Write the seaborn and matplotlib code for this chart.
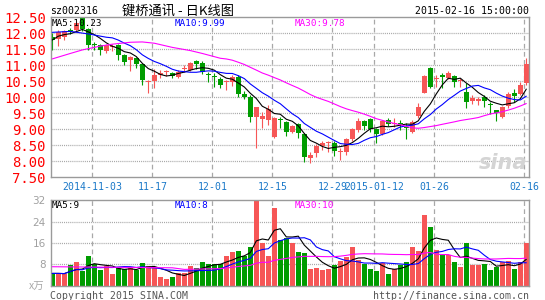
import numpy as np
import pandas as pd
import matplotlib
matplotlib.use("Agg")
import matplotlib.pyplot as plt
import seaborn as sns

# ---------------- data ----------------
opens = [11.87, 11.82, 11.88, 12.09, 12.10, 12.50, 12.14, 11.66, 11.63, 11.46,
         11.56, 11.62, 11.32, 11.18, 11.24, 11.05, 10.48, 10.52, 10.70, 10.78,
         10.76, 10.62, 10.88, 10.85, 11.14, 11.08, 10.71, 10.64, 10.57, 10.47,
         10.48, 10.64, 10.10, 10.02, 9.40, 9.31, 9.30, 8.77, 9.30, 9.24,
         8.91, 9.16, 8.85, 8.11, 8.27, 8.48, 8.57, 8.56, 8.29, 8.28,
         8.69, 8.98, 9.26, 9.31, 9.00, 8.85, 9.29, 9.17, 9.20, 9.05,
         8.92, 9.42, 10.15, 10.93, 10.57, 10.70, 10.59, 10.68, 10.50, 10.18,
         9.89, 9.90, 10.00, 9.79, 9.60, 9.40, 9.74, 10.15, 10.09, 10.44]
highs = [12.00, 12.10, 12.10, 12.17, 12.38, 12.55, 12.16, 11.73, 11.67, 11.66,
         11.66, 11.66, 11.36, 11.30, 11.27, 11.07, 10.54, 10.88, 10.85, 10.86,
         10.80, 10.85, 11.00, 11.10, 11.17, 11.14, 10.80, 10.75, 10.65, 10.54,
         10.70, 10.70, 10.20, 10.07, 9.70, 9.55, 9.75, 9.40, 9.40, 9.26,
         9.14, 9.19, 8.87, 8.30, 8.55, 8.62, 8.62, 8.62, 8.41, 8.72,
         9.05, 9.36, 9.29, 9.34, 9.03, 9.29, 9.34, 9.34, 9.29, 9.19,
         9.30, 9.82, 10.70, 10.94, 10.70, 10.75, 10.82, 10.70, 10.59, 10.44,
         10.07, 10.02, 10.07, 9.84, 9.61, 9.73, 10.18, 10.26, 10.49, 11.22]
lows = [11.48, 11.61, 11.80, 11.97, 12.05, 12.08, 11.48, 11.47, 11.32, 11.38,
        11.45, 11.17, 11.02, 10.82, 10.93, 10.39, 10.14, 10.29, 10.60, 10.68,
        10.59, 10.60, 10.78, 10.82, 10.90, 10.72, 10.49, 10.33, 10.30, 10.23,
        10.36, 10.02, 9.95, 9.24, 8.43, 9.03, 9.12, 8.72, 9.03, 8.80,
        8.88, 8.72, 7.99, 7.94, 8.12, 8.35, 8.30, 8.18, 8.04, 8.20,
        8.63, 8.93, 8.98, 8.93, 8.56, 8.82, 9.10, 9.08, 8.98, 8.70,
        8.88, 9.35, 10.12, 10.28, 10.33, 10.30, 10.57, 10.33, 10.33, 9.68,
        9.78, 9.76, 9.71, 9.47, 9.26, 9.36, 9.66, 9.84, 10.07, 10.39]
closes = [11.79, 12.03, 12.06, 12.07, 12.31, 12.14, 11.64, 11.64, 11.47, 11.62,
          11.60, 11.33, 11.11, 11.27, 11.05, 10.55, 10.50, 10.71, 10.77, 10.80,
          10.67, 10.78, 10.91, 11.08, 11.05, 10.80, 10.69, 10.62, 10.38, 10.50,
          10.64, 10.09, 10.00, 9.40, 9.69, 9.42, 9.62, 9.34, 9.28, 8.91,
          9.10, 8.90, 8.15, 8.20, 8.49, 8.58, 8.59, 8.32, 8.31, 8.69,
          9.01, 9.26, 9.11, 9.01, 8.85, 9.26, 9.16, 9.19, 9.18, 9.03,
          9.22, 9.71, 10.67, 10.33, 10.60, 10.63, 10.75, 10.49, 10.52, 9.84,
          9.97, 9.92, 9.89, 9.77, 9.52, 9.71, 10.10, 10.05, 10.39, 11.03]
volumes = [4.6, 4.6, 4.4, 7.7, 8.9, 5.5, 11.1, 8.0, 5.9, 7.5,
           4.4, 6.5, 6.2, 7.1, 5.9, 8.5, 7.5, 7.1, 3.4, 2.5,
           3.4, 4.9, 4.9, 7.4, 6.7, 8.9, 8.1, 8.0, 8.3, 11.0,
           12.6, 13.0, 11.0, 14.3, 33.0, 16.1, 11.1, 29.2, 17.2, 17.7,
           15.9, 12.7, 12.4, 6.2, 6.7, 5.9, 6.2, 7.7, 9.2, 10.9,
           14.5, 9.5, 8.0, 6.2, 5.5, 8.4, 4.4, 6.2, 7.7, 9.0,
           14.4, 13.0, 26.5, 22.0, 13.4, 11.7, 11.5, 9.0, 7.1, 15.9,
           7.7, 7.7, 8.1, 5.9, 7.1, 9.0, 9.2, 6.2, 9.0, 15.9]

# moving-average values before enough history exists
ma10_head_idx = [0, 3, 6]
ma10_head_val = [12.03, 12.06, 11.98]
ma30_head_idx = [0, 3, 5, 8, 10, 13, 15, 17, 20, 23, 25, 28]
ma30_head_val = [11.20, 11.37, 11.48, 11.60, 11.66, 11.72, 11.73, 11.69, 11.56, 11.46, 11.37, 11.22]
vma30_head_idx = [0, 10, 20, 22, 28]
vma30_head_val = [7.1, 6.9, 6.7, 6.1, 6.4]

date_ticks = [7, 17, 27, 37, 47, 54, 64, 79]
date_labels = ["2014-11-03", "11-17", "12-01", "12-15", "12-29", "2015-01-12", "01-26", "02-16"]
price_ticks = [7.5, 8.0, 8.5, 9.0, 9.5, 10.0, 10.5, 11.0, 11.5, 12.0, 12.5]
vol_ticks = [8, 16, 24, 32]

# ---------------- style ----------------
sns.set_style("white")
plt.rcParams["font.family"] = ["DejaVu Sans Mono"]
plt.rcParams["lines.scale_dashes"] = False

RED = "#f65656"
GREEN = "#009c00"
GRID = "#a8a8a8"
FRAME = "#9a9a9a"
CJK = ["Noto Sans CJK SC", "DejaVu Sans"]

W, H = 545, 300
fig = plt.figure(figsize=(W / 100, H / 100), dpi=100)
fig.patch.set_facecolor("white")

def axrect(l, t, r, b):
    return [l / W, 1 - b / H, (r - l) / W, (b - t) / H]

ax = fig.add_axes(axrect(50.7, 17.3, 529.3, 177.3))
axv = fig.add_axes(axrect(50.7, 200.2, 529.3, 285.7))

df = pd.DataFrame({"idx": np.arange(len(closes)), "open": opens, "high": highs,
                   "low": lows, "close": closes, "vol": volumes})
df["up"] = df["close"] >= df["open"]
cols = np.where(df["up"], RED, GREEN)

# moving averages
df["ma5"] = df["close"].rolling(5, min_periods=1).mean()
ma10_calc = df["close"].rolling(10).mean()
ma30_calc = df["close"].rolling(30).mean()
df["vma5"] = df["vol"].rolling(5, min_periods=1).mean()
df["vma10"] = df["vol"].rolling(10, min_periods=1).mean()
vma30_calc = df["vol"].rolling(30).mean()

def joined(h_idx, h_val, calc):
    m = calc.notna()
    x = list(h_idx) + list(df["idx"][m])
    y = list(h_val) + list(calc[m])
    return pd.DataFrame({"x": x, "y": y})

ma10_df = joined(ma10_head_idx, ma10_head_val, ma10_calc)
ma30_df = joined(ma30_head_idx, ma30_head_val, ma30_calc)
vma30_df = joined(vma30_head_idx, vma30_head_val, vma30_calc)

xmin, xmax = -0.27, 79.5
grid_x = [t - 0.33 for t in date_ticks]

for a in (ax, axv):
    a.set_facecolor("white")
    a.set_xlim(xmin, xmax)
    for s in a.spines.values():
        s.set_visible(True)
        s.set_color(FRAME)
        s.set_linewidth(1.0)
    for gx in grid_x:
        a.axvline(gx, color=GRID, lw=0.9, ls=(0, (3.4, 2.4)), zorder=0)

# ---------------- price panel ----------------
ax.set_ylim(price_ticks[0], price_ticks[-1])
for v in price_ticks[1:-1]:
    ax.axhline(v, color=GRID, lw=0.9, ls=(0, (0.75, 0.75)), zorder=0)

ax.vlines(df["idx"], df["low"], df["high"], colors=cols, lw=0.8, zorder=2)
body_bottom = np.minimum(df["open"], df["close"])
body_h = np.maximum((df["close"] - df["open"]).abs(), 0.032)
ax.bar(df["idx"], body_h, bottom=body_bottom, width=0.8, color=cols, linewidth=0, zorder=2)

sns.lineplot(data=df, x="idx", y="ma5", ax=ax, color="black", linewidth=0.8, estimator=None, zorder=3)
sns.lineplot(data=ma10_df, x="x", y="y", ax=ax, color="#0000ff", linewidth=0.8, estimator=None, zorder=3)
sns.lineplot(data=ma30_df, x="x", y="y", ax=ax, color="#ff00ff", linewidth=0.8, estimator=None, zorder=3)

ax.set_yticks(price_ticks)
ax.set_yticklabels([f"{v:.2f}" for v in price_ticks])
ax.set_xticks(grid_x)
ax.set_xticklabels(date_labels)
ax.tick_params(axis="y", length=0, pad=3.4, labelcolor="#ff0000", labelsize=10)
ax.tick_params(axis="x", length=0, pad=3.6, labelcolor="#1a78c8", labelsize=7.1)
ax.set_xlabel("")
ax.set_ylabel("")

# ---------------- volume panel ----------------
axv.set_ylim(0, vol_ticks[-1])
for v in vol_ticks[:-1]:
    axv.axhline(v, color=GRID, lw=0.9, ls=(0, (0.75, 0.75)), zorder=0)
axv.bar(df["idx"], df["vol"], width=0.8, color=cols, linewidth=0, zorder=2)
sns.lineplot(data=df, x="idx", y="vma5", ax=axv, color="black", linewidth=0.8, estimator=None, zorder=3)
sns.lineplot(data=df, x="idx", y="vma10", ax=axv, color="#0000ff", linewidth=0.8, estimator=None, zorder=3)
sns.lineplot(data=vma30_df, x="x", y="y", ax=axv, color="#ff00ff", linewidth=0.8, estimator=None, zorder=3)
axv.set_yticks(vol_ticks)
axv.set_yticklabels([str(v) for v in vol_ticks], family="DejaVu Sans")
axv.set_xticks([])
axv.tick_params(axis="y", length=0, pad=3.6, labelcolor="#a0a0a0", labelsize=7.5)
axv.set_xlabel("")
axv.set_ylabel("")

# ---------------- texts ----------------
def ftext(x, y, s, **kw):
    fig.text(x / W, 1 - y / H, s, va="center", **kw)

ftext(50, 11, "sz002316", ha="left", fontsize=7.1, color="black")
ftext(178, 11, "键桥通讯 - 日K线图", ha="center", fontsize=9.5, color="black", family=CJK)
ftext(529, 11, "2015-02-16 15:00:00", ha="right", fontsize=7.1, color="black")

ftext(52, 23, "MA5:10.23", ha="left", fontsize=6.7, color="black", zorder=5)
ftext(175, 23, "MA10:9.99", ha="left", fontsize=6.7, color="#0000ff", zorder=5)
ftext(295, 23, "MA30:9.78", ha="left", fontsize=6.7, color="#ff00ff", zorder=5)

ftext(52, 205, "MA5:9", ha="left", fontsize=6.7, color="black", zorder=5)
ftext(175, 205, "MA10:8", ha="left", fontsize=6.7, color="#0000ff", zorder=5)
ftext(295, 205, "MA30:10", ha="left", fontsize=6.7, color="#ff00ff", zorder=5)

ftext(29, 287, "x万", ha="left", fontsize=7.5, color="#a8a8a8", family=CJK)
ftext(50, 296, "Copyright 2015 SINA.COM", ha="left", fontsize=7.1, color="#555555")
ftext(529, 296, "http://finance.sina.com.cn", ha="right", fontsize=7.1, color="#555555")

ftext(503, 163, "sina", ha="center", fontsize=15, color="#d4d4d4",
      family="DejaVu Sans", style="italic", weight="bold")

fig.savefig("out.png", dpi=100, facecolor="white")
